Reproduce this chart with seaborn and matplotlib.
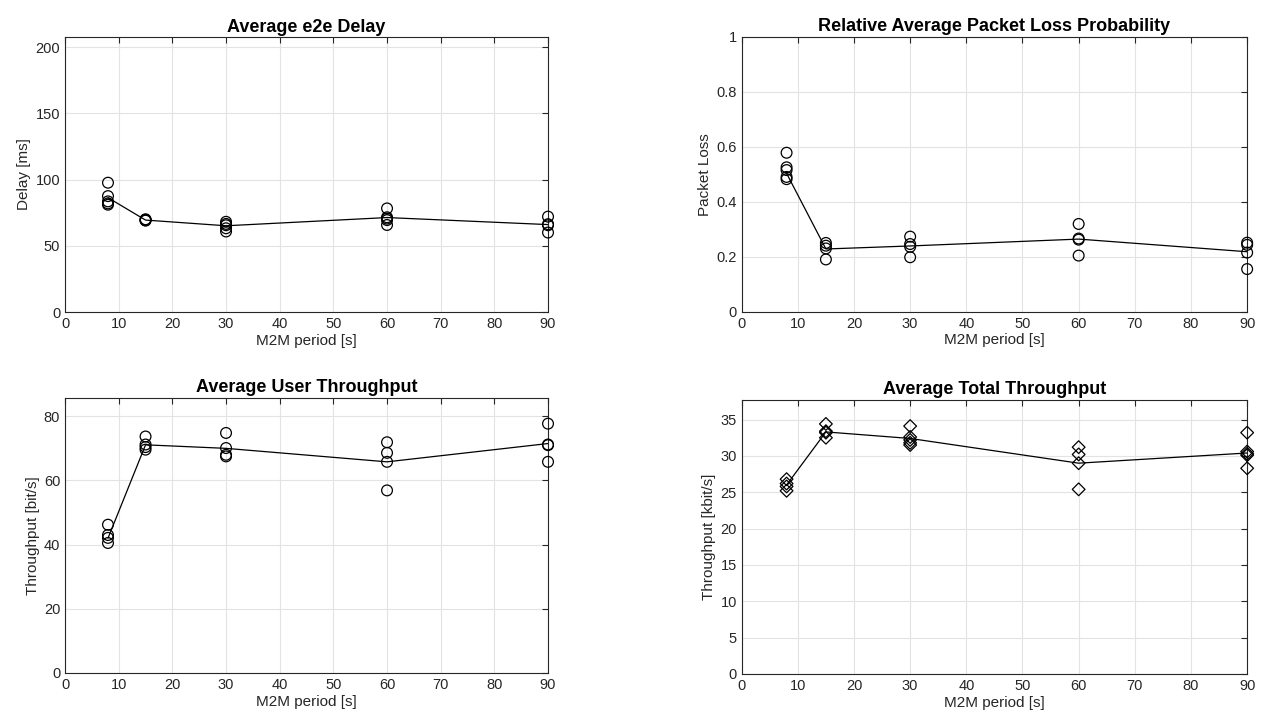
import pandas as pd
import seaborn as sns
import matplotlib
matplotlib.use('Agg')
import matplotlib.pyplot as plt

# M2M periods and per-run values
periods = [8, 15, 30, 60, 90]

delay_runs = {
    8: [97.6, 87.5, 83.5, 82.0, 81.0],
    15: [70.0, 69.6, 69.3, 69.0],
    30: [68.1, 66.5, 65.5, 63.2, 60.8],
    60: [78.2, 71.5, 70.5, 69.4, 65.7],
    90: [72.0, 66.3, 65.5, 60.0],
}
delay_avg = [86.3, 69.4, 65.1, 71.3, 66.0]

loss_runs = {
    8: [0.578, 0.525, 0.515, 0.49, 0.482],
    15: [0.25, 0.24, 0.23, 0.19],
    30: [0.273, 0.246, 0.236, 0.198],
    60: [0.319, 0.266, 0.262, 0.204],
    90: [0.251, 0.243, 0.215, 0.155],
}
loss_avg = [0.503, 0.228, 0.239, 0.264, 0.218]

user_tp_runs = {
    8: [46.2, 43.0, 42.1, 40.5],
    15: [73.7, 71.2, 70.4, 69.6],
    30: [74.8, 70.1, 68.0, 67.5],
    60: [71.9, 68.6, 65.8, 56.9],
    90: [77.7, 71.2, 71.0, 65.8],
}
user_tp_avg = [42.0, 71.1, 70.0, 65.8, 71.5]

total_tp_runs = {
    8: [26.8, 26.2, 25.8, 25.2],
    15: [34.4, 33.4, 33.2, 32.5],
    30: [34.1, 32.6, 32.2, 31.8, 31.5],
    60: [31.2, 30.2, 29.0, 25.4],
    90: [33.2, 30.6, 30.3, 30.1, 28.3],
}
total_tp_avg = [26.0, 33.3, 32.4, 29.0, 30.4]


def to_long(runs):
    rows = [(p, v) for p, vals in runs.items() for v in vals]
    return pd.DataFrame(rows, columns=['period', 'value'])


sns.set_style('white')
plt.rcParams['font.family'] = ['Liberation Sans', 'DejaVu Sans']

fig = plt.figure(figsize=(12.73, 7.24), dpi=100)

panels = [
    ([0.0511, 0.569, 0.3794, 0.3798], delay_runs, delay_avg, 'o',
     'Average e2e Delay', 'Delay [ms]', 207.5, [0, 50, 100, 150, 200]),
    ([0.5826, 0.5695, 0.3971, 0.3798], loss_runs, loss_avg, 'o',
     'Relative Average Packet Loss Probability', 'Packet Loss', 1.0,
     [0, 0.2, 0.4, 0.6, 0.8, 1]),
    ([0.0511, 0.0705, 0.3794, 0.3798], user_tp_runs, user_tp_avg, 'o',
     'Average User Throughput', 'Throughput [bit/s]', 85.7, [0, 20, 40, 60, 80]),
    ([0.5826, 0.0691, 0.3971, 0.3785], total_tp_runs, total_tp_avg, 'D',
     'Average Total Throughput', 'Throughput [kbit/s]', 37.7,
     [0, 5, 10, 15, 20, 25, 30, 35]),
]

for rect, runs, avg, marker, title, ylabel, ytop, yticks in panels:
    ax = fig.add_axes(rect)
    df = to_long(runs)
    sns.lineplot(x=periods, y=avg, ax=ax, color='black', linewidth=0.9, zorder=2)
    msize = 60 if marker == 'o' else 42
    sns.scatterplot(data=df, x='period', y='value', ax=ax, marker=marker,
                    facecolor='none', edgecolor='black', linewidth=0.9,
                    s=msize, zorder=3, clip_on=False)
    ax.set_xlim(0, 90)
    ax.set_ylim(0, ytop)
    ax.set_xticks(range(0, 91, 10))
    ax.set_yticks(yticks)
    ax.set_yticklabels([f'{t:g}' for t in yticks])
    ax.grid(True, color='#e3e3e3', linewidth=0.8)
    ax.set_axisbelow(True)
    for sp in ax.spines.values():
        sp.set_color('#262626')
        sp.set_linewidth(0.8)
    ax.tick_params(direction='in', top=True, right=True, length=4,
                   width=0.8, colors='#262626', labelsize=10.5)
    ax.set_title(title, fontsize=13, fontweight='bold', color='black', pad=4)
    ax.set_xlabel('M2M period [s]', fontsize=11, color='#262626', labelpad=2)
    ax.set_ylabel(ylabel, fontsize=11, color='#262626', labelpad=3)

fig.savefig('out.png', dpi=100)
